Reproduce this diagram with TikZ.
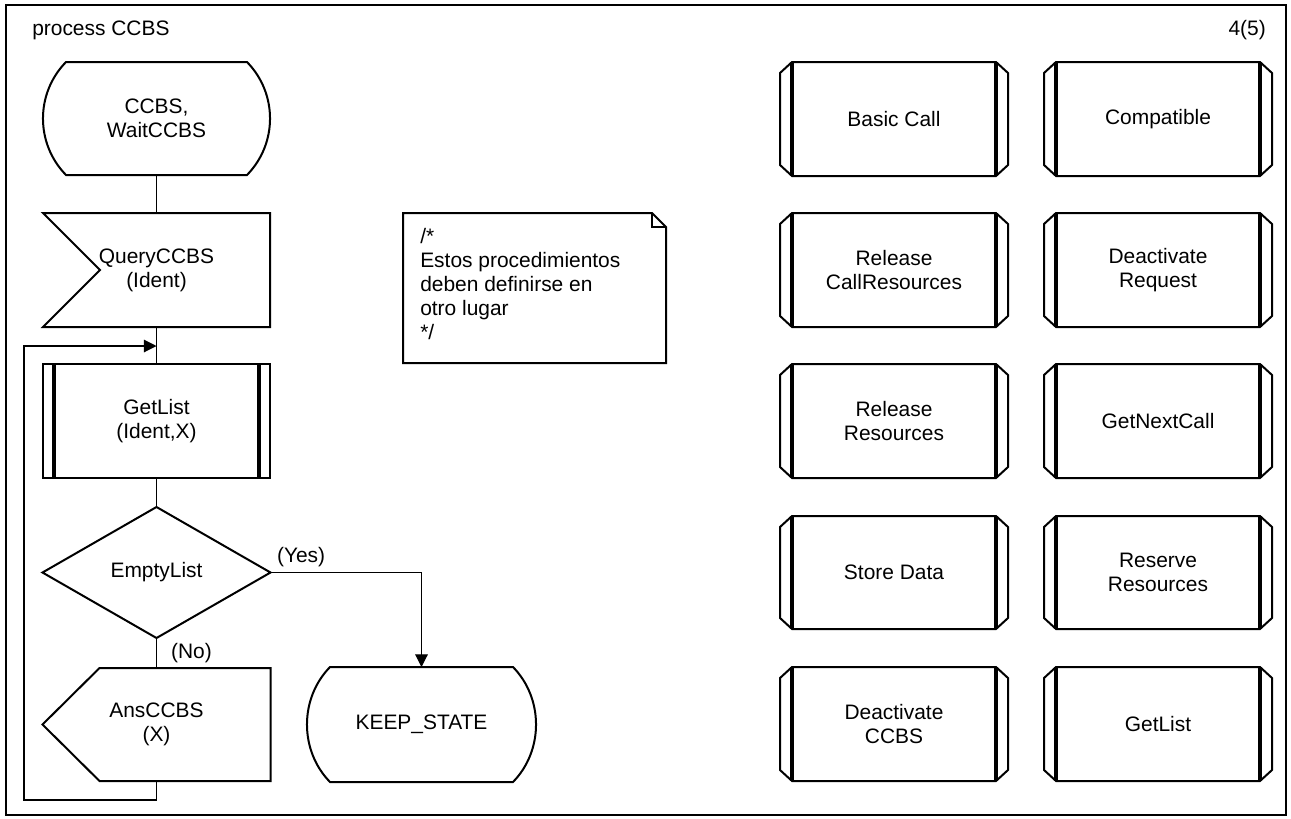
\documentclass[tikz,border=0pt]{standalone}
\usepackage{fontspec}
\setmainfont{Liberation Sans}
\usetikzlibrary{calc,arrows.meta}
\newcommand\sdlstate[1]{%
  \draw[outline] ($(#1.north west)+(23,0)$) -- ($(#1.north east)+(-23,0)$)
    .. controls +(30.7,31.4) and +(30.7,-31.4) .. ($(#1.south east)+(-23,0)$)
    -- ($(#1.south west)+(23,0)$)
    .. controls +(-30.7,-31.4) and +(-30.7,31.4) .. ($(#1.north west)+(23,0)$) -- cycle;}
\newcommand\sdlrefproc[1]{%
  \draw[outline] ($(#1.north west)+(12,0)$) -- ($(#1.north east)+(-12,0)$)
    -- ($(#1.north east)+(0,11)$) -- ($(#1.south east)+(0,-11)$)
    -- ($(#1.south east)+(-12,0)$) -- ($(#1.south west)+(12,0)$)
    -- ($(#1.south west)+(0,-11)$) -- ($(#1.north west)+(0,11)$) -- cycle;
  \draw[procbar] ($(#1.north west)+(12,0)$) -- ($(#1.south west)+(12,0)$);
  \draw[procbar] ($(#1.north east)+(-12,0)$) -- ($(#1.south east)+(-12,0)$);}
\begin{document}
\begin{tikzpicture}[x=0.75pt,y=-0.75pt,
  every node/.style={font=\fontsize{15.7}{18}\selectfont, text=black},
  sdlbox/.style 2 args={minimum width=#1*0.75pt, minimum height=#2*0.75pt,
    inner sep=0pt, outer sep=0pt, align=center, draw=none},
  outline/.style={line width=1.5pt, line join=miter},
  procbar/.style={line width=2.5pt},
  conn/.style={line width=0.8pt},
  arr/.style={conn, -{Triangle[length=9.5pt,width=9.5pt]}},
  lbl/.style={inner sep=0pt},
  frame/.style={line width=1.5pt}]

\useasboundingbox (0,0) rectangle (1291,818);
\draw[frame] (6,5) rectangle (1286,815);
\node[lbl, anchor=base west] (title) at (32,35.5) {process CCBS};
\node[lbl, anchor=base east] (page) at (1266,35.5) {4(5)};

% left flow
\node[sdlbox={227}{113}] (start) at (156.5,118.5) {CCBS,\\WaitCCBS};
\node[sdlbox={227}{114}] (query) at (156.5,270) {QueryCCBS\\(Ident)};
\node[sdlbox={227}{114}] (getl) at (156.5,421) {GetList\\(Ident,X)};
\node[sdlbox={228}{131}] (empty) at (156.5,572.5) {EmptyList};
\node[sdlbox={228}{113}] (ans) at (156.5,724.5) {AnsCCBS\\(X)};
\node[sdlbox={229}{115}] (keep) at (421.5,724.5) {KEEP\_STATE};

% comment
\node[sdlbox={263}{150}] (note) at (534.5,288) {};
\node[lbl, anchor=north west, align=left] (notetext) at (420,228)
  {/*\\Estos procedimientos\\deben definirse en\\otro lugar\\*/};

% procedure references
\node[sdlbox={228}{114}] (p1) at (894,119) {Basic Call};
\node[sdlbox={228}{114}] (p2) at (1158,119) {Compatible};
\node[sdlbox={228}{114}] (p3) at (894,270) {Release\\CallResources};
\node[sdlbox={228}{114}] (p4) at (1158,270) {Deactivate\\Request};
\node[sdlbox={228}{114}] (p5) at (894,421) {Release\\Resources};
\node[sdlbox={228}{114}] (p6) at (1158,421) {GetNextCall};
\node[sdlbox={228}{113}] (p7) at (894,572.5) {Store Data};
\node[sdlbox={228}{113}] (p8) at (1158,572.5) {Reserve\\Resources};
\node[sdlbox={228}{114}] (p9) at (894,724) {Deactivate\\CCBS};
\node[sdlbox={228}{114}] (p10) at (1158,724) {GetList};

% outlines
\sdlstate{start}
\sdlstate{keep}
\draw[outline] (query.north west) -- (query.north east) -- (query.south east)
  -- (query.south west) -- ($(query.west)+(57,0)$) -- cycle;
\draw[outline] (getl.north west) rectangle (getl.south east);
\draw[procbar] ($(getl.north west)+(11,0)$) -- ($(getl.south west)+(11,0)$);
\draw[procbar] ($(getl.north east)+(-11,0)$) -- ($(getl.south east)+(-11,0)$);
\draw[outline] (empty.north) -- (empty.east) -- (empty.south) -- (empty.west) -- cycle;
\draw[outline] ($(ans.north west)+(57,0)$) -- (ans.north east) -- (ans.south east)
  -- ($(ans.south west)+(57,0)$) -- (ans.west) -- cycle;
\draw[outline] (note.north west) -- ($(note.north east)+(-14,0)$)
  -- ($(note.north east)+(0,14)$) -- (note.south east) -- (note.south west) -- cycle;
\draw[outline] ($(note.north east)+(-14,0)$) -- ++(0,14) -- ++(14,0);
\foreach \p in {p1,p2,p3,p4,p5,p6,p7,p8,p9,p10} {\sdlrefproc{\p}}

% connectors
\coordinate (loopin) at (156.5,346);
\coordinate (loopbottom) at (156.5,800);
\coordinate (loopleft) at (24,346);
\draw[conn] (start.south) -- (query.north);
\draw[conn] (query.south) -- (getl.north);
\draw[conn] (getl.south) -- (empty.north);
\draw[conn] (empty.south) -- node[lbl, anchor=west, xshift=10.5pt] (nolbl) {(No)} (ans.north);
\draw[arr] (empty.east) -- node[pos=0, lbl, anchor=south west, xshift=4.5pt, yshift=3.75pt] (yeslbl) {(Yes)}
  (empty.east -| keep.north) -- (keep.north);
\draw[arr] (ans.south) -- (loopbottom) -| (loopleft) -- (loopin);
\end{tikzpicture}
\end{document}
